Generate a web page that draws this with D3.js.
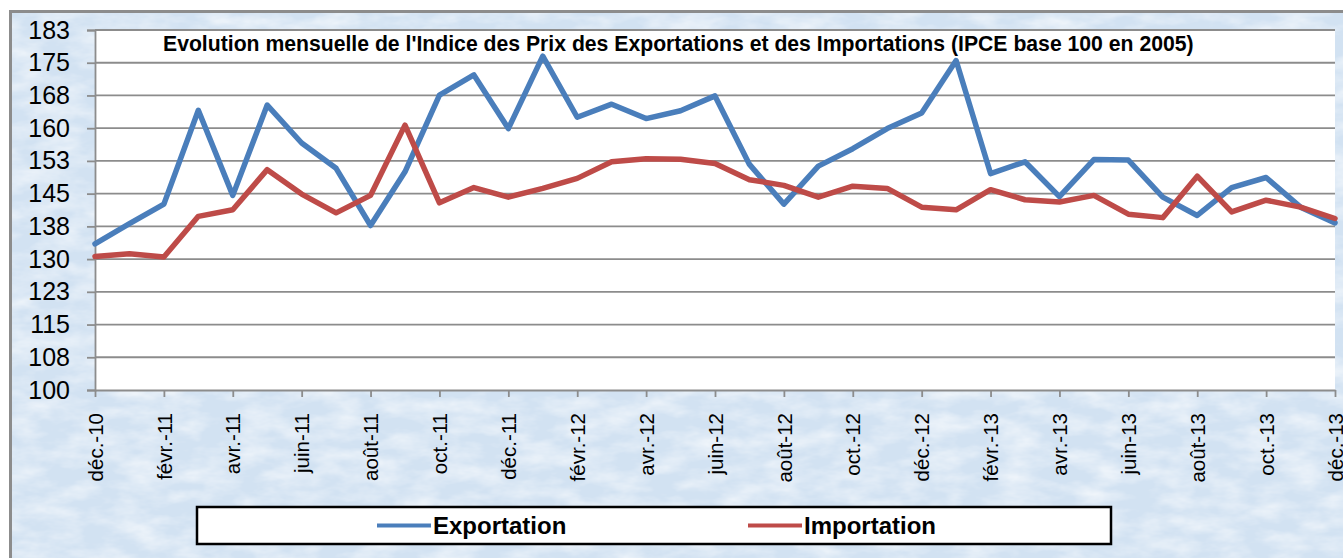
<!DOCTYPE html>
<html>
<head>
<meta charset="utf-8">
<script src="https://cdn.jsdelivr.net/npm/d3@7"></script>
<style>
  body { margin: 0; background: #ffffff; }
  svg { display: block; font-family: Arial, "Liberation Sans", sans-serif; }
</style>
</head>
<body>
<div id="chart"></div>
<script>
// monthly index values, déc.-10 .. déc.-13
const months = [
  "déc.-10", "janv.-11", "févr.-11", "mars-11", "avr.-11", "mai-11", "juin-11",
  "juil.-11", "août-11", "sept.-11", "oct.-11", "nov.-11", "déc.-11",
  "janv.-12", "févr.-12", "mars-12", "avr.-12", "mai-12", "juin-12",
  "juil.-12", "août-12", "sept.-12", "oct.-12", "nov.-12", "déc.-12",
  "janv.-13", "févr.-13", "mars-13", "avr.-13", "mai-13", "juin-13",
  "juil.-13", "août-13", "sept.-13", "oct.-13", "nov.-13", "déc.-13",
];

const exportation = [
  133.5, 138.1, 142.6, 164.1, 144.6, 165.3, 156.6, 150.8, 137.7, 150.0,
  167.6, 172.2, 159.9, 176.5, 162.5, 165.5, 162.2, 164.0, 167.4, 151.7,
  142.6, 151.3, 155.3, 159.9, 163.5, 175.5, 149.6, 152.3, 144.3, 152.8,
  152.7, 144.2, 140.0, 146.4, 148.7, 141.9, 138.3,
];

const importation = [
  130.6, 131.2, 130.5, 139.8, 141.3, 150.5, 144.9, 140.6, 144.6, 160.7,
  142.9, 146.4, 144.2, 146.2, 148.5, 152.3, 153.0, 152.9, 151.9, 148.2,
  146.9, 144.2, 146.7, 146.2, 141.9, 141.3, 145.9, 143.6, 143.1, 144.6,
  140.3, 139.5, 149.0, 140.8, 143.5, 141.9, 139.3,
];

const yTicks = [100, 107.5, 115, 122.5, 130, 137.5, 145, 152.5, 160, 167.5, 175, 182.5];
const yTickLabels = ["100", "108", "115", "123", "130", "138", "145", "153", "160", "168", "175", "183"];

const seriesNames = ["Exportation", "Importation"];
const seriesColors = ["#4a7ebb", "#be4b48"];

const width = 1343,
  height = 558,
  margin = { top: 30, right: 8, bottom: 168, left: 95 };

const svg = d3
  .select("#chart")
  .append("svg")
  .attr("width", width)
  .attr("height", height);

// textured light-blue background
const defs = svg.append("defs");
const tex = defs.append("filter").attr("id", "tex").attr("x", 0).attr("y", 0).attr("width", 1).attr("height", 1);
tex
  .append("feTurbulence")
  .attr("type", "fractalNoise")
  .attr("baseFrequency", "0.025 0.06")
  .attr("numOctaves", 4)
  .attr("seed", 7);
tex
  .append("feColorMatrix")
  .attr("type", "matrix")
  .attr("values", "0 0 0 0 1  0 0 0 0 1  0 0 0 0 1  0 0 0 1.1 -0.38");

svg.append("rect")
  .attr("x", 10).attr("y", 11)
  .attr("width", width).attr("height", height)
  .attr("fill", "#d2e2f2");
svg.append("rect")
  .attr("x", 10).attr("y", 11)
  .attr("width", width).attr("height", height)
  .attr("filter", "url(#tex)");
svg.append("rect")
  .attr("x", 10.5).attr("y", 11.5)
  .attr("width", width).attr("height", height)
  .attr("fill", "none")
  .attr("stroke", "#8c8c8c")
  .attr("stroke-width", 3);

const x = d3
  .scalePoint()
  .domain(months)
  .range([margin.left, 1335]);

const y = d3
  .scaleLinear()
  .domain([100, 182.5])
  .range([height - margin.bottom, margin.top]);

// plot area
svg.append("rect")
  .attr("x", margin.left)
  .attr("y", y(182.5))
  .attr("width", 1335 - margin.left)
  .attr("height", y(100) - y(182.5))
  .attr("fill", "#ffffff");

// gridlines
svg.append("g")
  .selectAll("line")
  .data(yTicks.slice(1))
  .join("line")
  .attr("x1", margin.left)
  .attr("x2", 1335)
  .attr("y1", (d) => y(d))
  .attr("y2", (d) => y(d))
  .attr("stroke", "#8c8c8c")
  .attr("stroke-width", 1.8);

// y axis
const yAxis = svg
  .append("g")
  .attr("transform", `translate(${margin.left},0)`)
  .call(
    d3.axisLeft(y)
      .tickValues(yTicks)
      .tickSize(8)
      .tickPadding(17)
      .tickFormat((d, i) => yTickLabels[i])
  );
yAxis.select(".domain").attr("stroke", "#8c8c8c").attr("stroke-width", 1.8);
yAxis.selectAll(".tick line").attr("stroke", "#8c8c8c").attr("stroke-width", 1.8);
yAxis.selectAll("text")
  .attr("fill", "#000")
  .style("font-size", "25px")
  .style("font-family", "Arial, 'Liberation Sans', sans-serif");

// x axis, one label every two months
const xAxis = svg
  .append("g")
  .attr("transform", `translate(0,${y(100)})`)
  .call(
    d3.axisBottom(x)
      .tickValues(months.filter((d, i) => i % 2 === 0))
      .tickSize(7)
      .tickSizeOuter(0)
  );
xAxis.select(".domain").attr("stroke", "#8c8c8c").attr("stroke-width", 1.8);
xAxis.selectAll(".tick line").attr("stroke", "#8c8c8c").attr("stroke-width", 1.8);
xAxis.selectAll("text")
  .attr("fill", "#000")
  .attr("transform", "rotate(-90)")
  .attr("text-anchor", "end")
  .attr("x", -23)
  .attr("y", 0)
  .attr("dy", "0.35em")
  .style("font-size", "20.5px")
  .style("font-family", "Arial, 'Liberation Sans', sans-serif");

// lines
const line = d3
  .line()
  .x((d, i) => x(months[i]))
  .y((d) => y(d));

svg.append("g")
  .selectAll("path")
  .data([exportation, importation])
  .join("path")
  .attr("d", line)
  .attr("fill", "none")
  .attr("stroke", (d, i) => seriesColors[i])
  .attr("stroke-width", 5.5)
  .attr("stroke-linejoin", "round")
  .attr("stroke-linecap", "round");

// title
svg.append("text")
  .attr("x", 163)
  .attr("y", 51)
  .attr("font-weight", "bold")
  .style("font-size", "21.2px")
  .text("Evolution mensuelle de l'Indice des Prix des Exportations et des Importations (IPCE base 100 en 2005)");

// legend
svg.append("rect")
  .attr("x", 197)
  .attr("y", 507)
  .attr("width", 914)
  .attr("height", 37)
  .attr("fill", "#ffffff")
  .attr("stroke", "#000")
  .attr("stroke-width", 2.5);

const legendX = [377, 748];
seriesNames.forEach((name, i) => {
  svg.append("line")
    .attr("x1", legendX[i])
    .attr("x2", legendX[i] + 54)
    .attr("y1", 525.5)
    .attr("y2", 525.5)
    .attr("stroke", seriesColors[i])
    .attr("stroke-width", 4);
  svg.append("text")
    .attr("x", legendX[i] + 56)
    .attr("y", 534)
    .attr("font-weight", "bold")
    .style("font-size", "24px")
    .text(name);
});
</script>
</body>
</html>
